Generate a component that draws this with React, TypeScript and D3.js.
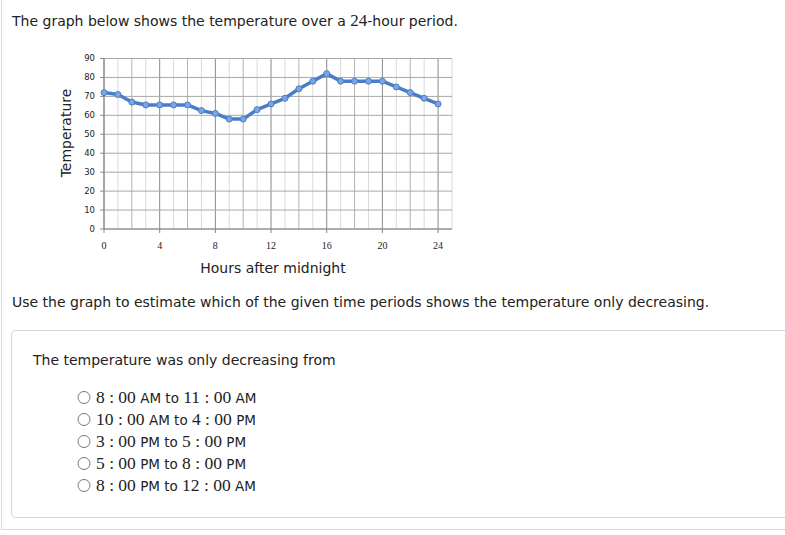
import React from "react";
import * as d3 from "d3";

const hours = [0,1,2,3,4,5,6,7,8,9,10,11,12,13,14,15,16,17,18,19,20,21,22,23,24];
const temps = [72,71,67,65.5,65.5,65.5,65.5,62.5,61,58,58,63,66,69,74,78,82,78,78,78,78,75,72,69,66];
const yTicks = [0,10,20,30,40,50,60,70,80,90];
const xTicks = [0,4,8,12,16,20,24];
const options = [
  ["8 : 00", "AM", "11 : 00", "AM"],
  ["10 : 00", "AM", "4 : 00", "PM"],
  ["3 : 00", "PM", "5 : 00", "PM"],
  ["5 : 00", "PM", "8 : 00", "PM"],
  ["8 : 00", "PM", "12 : 00", "AM"],
];

const SANS = "'DejaVu Sans', Verdana, sans-serif";
const MATH = "'Liberation Serif', 'DejaVu Serif', serif";

export default function App() {
  const x = d3.scaleLinear().domain([0, 25]).range([104, 452]);
  const y = d3.scaleLinear().domain([0, 90]).range([229, 58.5]);
  const line = d3.line<number>().x((_, i) => x(hours[i])).y((d) => y(d));
  const gridHours = d3.range(0, 26);

  return (
    <svg width={785} height={535} style={{ position: "absolute", left: 0, top: 0, background: "#fff" }}>
      <line x1={1.5} y1={0} x2={1.5} y2={529.5} stroke="#d3dde2" />
      <line x1={1.5} y1={529.5} x2={785} y2={529.5} stroke="#d3dde2" />
      <path d="M 790 330.5 L 16 330.5 Q 11.5 330.5 11.5 335 L 11.5 513 Q 11.5 517.5 16 517.5 L 790 517.5" fill="none" stroke="#cfdadf" />

      <text x={12} y={25.5} fontFamily={SANS} fontSize={14} fill="#222">
        The graph below shows the temperature over a{" "}
        <tspan fontFamily={MATH} fontSize={17}>24</tspan>-hour period.
      </text>

      <g>
        {gridHours.map((h) => (
          <line key={"v" + h} x1={x(h)} x2={x(h)} y1={y(90)} y2={y(0)}
            stroke={h % 4 === 0 ? "#8a8a8a" : h % 2 === 0 ? "#b4b4b4" : "#dadada"} strokeWidth={1} />
        ))}
        {yTicks.map((t) => (
          <line key={"h" + t} x1={x(0)} x2={x(25)} y1={y(t)} y2={y(t)} stroke="#a8a8a8" />
        ))}
        <line x1={x(0)} x2={x(0)} y1={y(90)} y2={y(0)} stroke="#888" />
        <line x1={x(0)} x2={x(25)} y1={y(0)} y2={y(0)} stroke="#888" />
        {yTicks.map((t) => (
          <g key={"yt" + t}>
            <line x1={x(0) - 4} x2={x(0)} y1={y(t)} y2={y(t)} stroke="#888" />
            <text x={x(0) - 9} y={y(t)} dy="0.35em" textAnchor="end" fontFamily={SANS} fontSize={8.5} fill="#222">{t}</text>
          </g>
        ))}
        {xTicks.map((t) => (
          <g key={"xt" + t}>
            <line x1={x(t)} x2={x(t)} y1={y(0)} y2={y(0) + 4} stroke="#888" />
            <text x={x(t)} y={y(0) + 20} textAnchor="middle" fontFamily={MATH} fontSize={10} fill="#222">{t}</text>
          </g>
        ))}
      </g>

      <path d={line(temps) || ""} fill="none" stroke="#4a7dc6" strokeWidth={3.5} strokeLinejoin="round" />
      {temps.map((v, i) => (
        <circle key={"p" + i} cx={x(hours[i])} cy={y(v)} r={3} fill="#7aa6e6" stroke="#4a7dc6" strokeWidth={1} />
      ))}

      <text transform={`translate(71,${133}) rotate(-90)`} textAnchor="middle" fontFamily={SANS} fontSize={14} fill="#222">Temperature</text>
      <text x={273} y={273} textAnchor="middle" fontFamily={SANS} fontSize={14} fill="#222">Hours after midnight</text>

      <text x={12} y={307} fontFamily={SANS} fontSize={14} fill="#222">
        Use the graph to estimate which of the given time periods shows the temperature only decreasing.
      </text>

      <text x={33} y={365} fontFamily={SANS} fontSize={14} fill="#222">The temperature was only decreasing from</text>

      {options.map((o, i) => {
        const yy = 402.5 + i * 22;
        return (
          <g key={"o" + i}>
            <circle cx={84} cy={yy - 5} r={6} fill="#fff" stroke="#777" strokeWidth={1} />
            <text x={96} y={yy} fontFamily={SANS} fontSize={13.5} fill="#222">
              <tspan fontFamily={MATH} fontSize={17.5}>{o[0]}</tspan>
              <tspan> {o[1]} to </tspan>
              <tspan fontFamily={MATH} fontSize={17.5}>{o[2]}</tspan>
              <tspan> {o[3]}</tspan>
            </text>
          </g>
        );
      })}
    </svg>
  );
}
